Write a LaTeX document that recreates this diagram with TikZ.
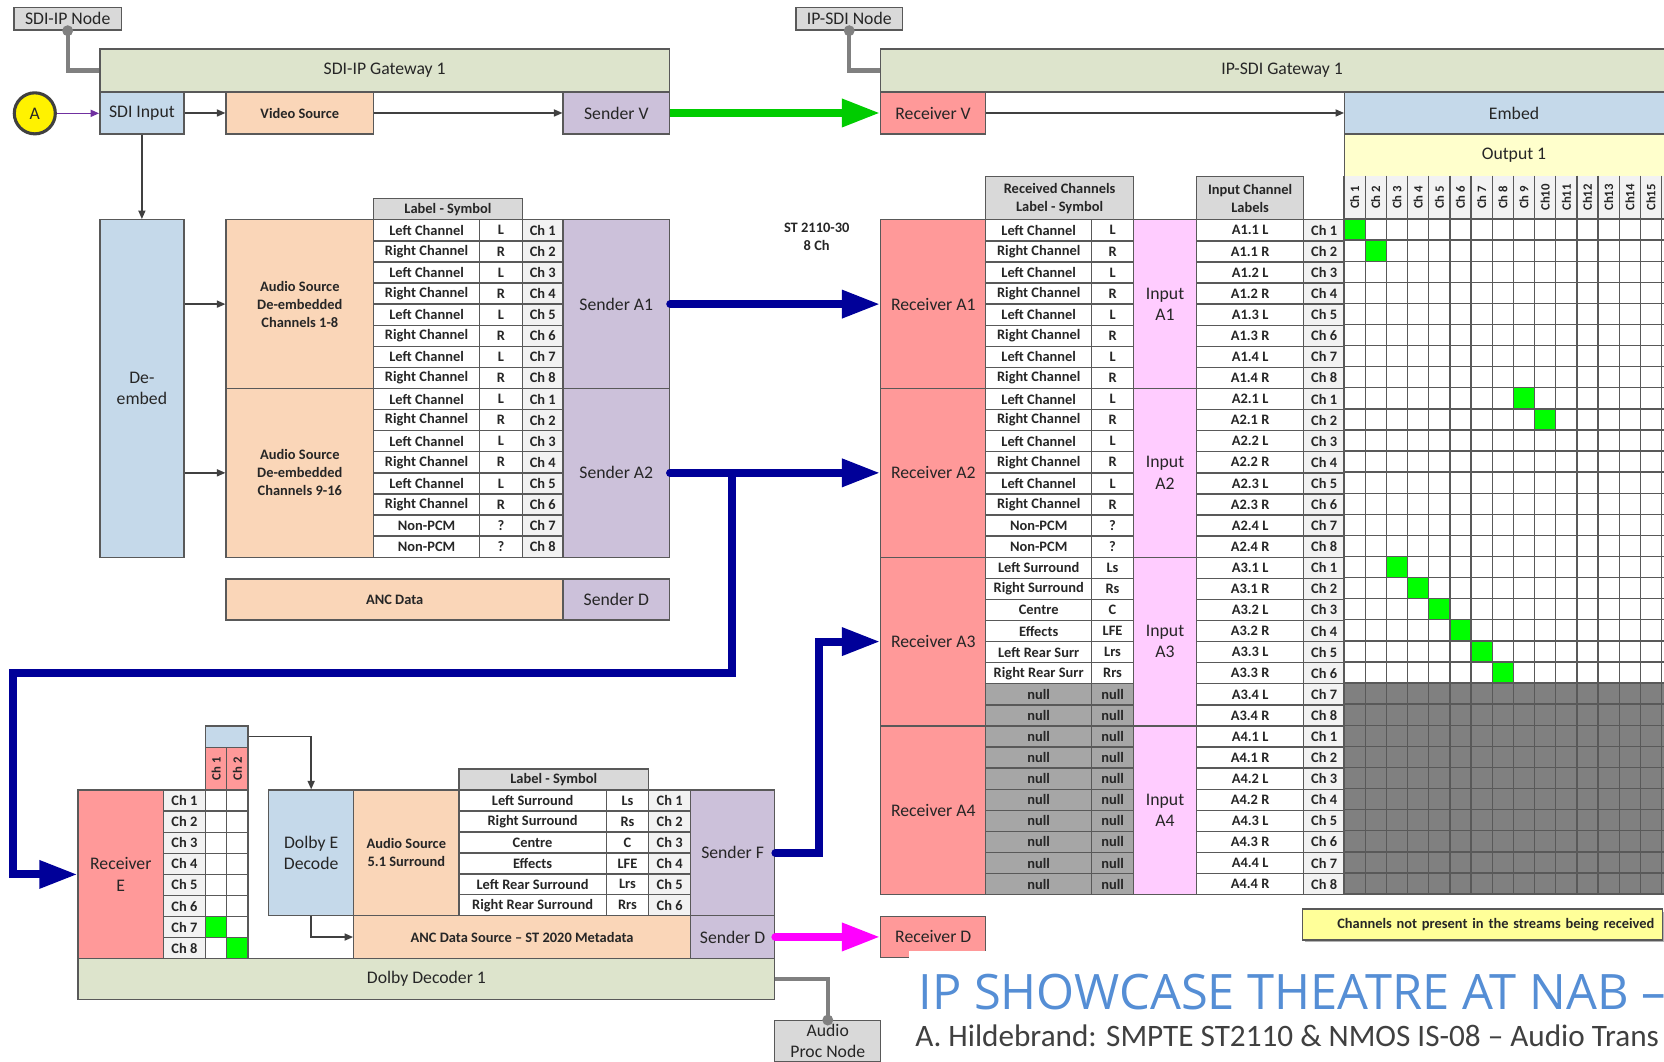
\documentclass[tikz,border=0pt]{standalone}
\usepackage{fontspec}
\setmainfont{Carlito}
\newfontfamily\showfont{Open Sans}
\usetikzlibrary{arrows.meta}

\definecolor{bord}{RGB}{89,89,89}
\definecolor{txt}{RGB}{38,38,38}
\definecolor{arr}{RGB}{64,64,64}
\definecolor{olive}{RGB}{221,228,204}
\definecolor{ltblue}{RGB}{197,217,234}
\definecolor{peach}{RGB}{250,214,184}
\definecolor{lav}{RGB}{204,193,218}
\definecolor{salmon}{RGB}{255,153,153}
\definecolor{pinkin}{RGB}{255,204,255}
\definecolor{ltyel}{RGB}{255,255,204}
\definecolor{hdrgray}{RGB}{217,217,217}
\definecolor{chgray}{RGB}{242,242,242}
\definecolor{nullgray}{RGB}{166,166,166}
\definecolor{offgray}{RGB}{128,128,128}
\definecolor{hit}{RGB}{0,255,0}
\definecolor{vidgreen}{RGB}{0,204,0}
\definecolor{audnavy}{RGB}{0,0,153}
\definecolor{ancmag}{RGB}{255,0,255}
\definecolor{lnkgray}{RGB}{128,128,128}
\definecolor{purp}{RGB}{112,48,160}
\definecolor{legyel}{RGB}{255,255,153}
\definecolor{ttlblue}{RGB}{85,142,213}
\definecolor{subgray}{RGB}{64,64,64}

\tikzset{every picture/.style={line width=0.75pt}}
\tikzset{
	sz/.style 2 args={minimum width=#1*0.75pt, minimum height=#2*0.75pt},
	blk/.style={draw=bord, line width=1pt, rectangle, inner sep=0pt, anchor=north west, align=center, text=txt, font=\fontsize{12.5}{15}\selectfont},
	sml/.style={font=\fontsize{10.2}{12.75}\selectfont\bfseries},
	grd/.style={draw=bord, line width=1pt},
	lnk/.style={draw=arr, line width=1pt, -{Triangle[length=6pt,width=5pt]}},
	fat/.style={line width=5.6pt, -{Triangle[length=27pt,width=18.75pt]}},
	nlk/.style={draw=lnkgray, line width=3pt, {Circle[length=7.5pt]}-, shorten <=-3.75pt}
}

\begin{document}
\begin{tikzpicture}[x=0.75pt,y=0.75pt,yscale=-1,xscale=1]
		\useasboundingbox (0,0) rectangle (1568,1000);
		\def\rh{19.875}
		\def\cw{19.95}
		
		%SDI-IP gateway
		\node[blk, fill=hdrgray, sz={101}{21.3}] (ndSDI) at (12.6,6.3) {SDI-IP Node};
		\node[blk, fill=olive, sz={536.8}{40.5}] (gwSDI) at (93.4,45.5) {SDI-IP Gateway 1};
		\node[blk, fill=ltblue, sz={79.3}{39.6}] (sdiIn) at (93.4,86) {SDI Input};
		\node[blk, fill=peach, sml, sz={138.9}{39.6}] (vidSrc) at (212.4,86) {Video Source};
		\node[blk, fill=lav, sz={100.2}{39.6}] (sndV) at (530,86) {Sender V};
		\node[circle, draw=subgray, line width=2.2pt, fill=yellow, minimum size=29pt, inner sep=0pt, text=txt, font=\fontsize{12.5}{15}\selectfont] (srcA) at (32.8,106.8) {A};
		\node[blk, fill=ltblue, sz={79.3}{318}] (deemb) at (93.4,206.4) {De-\\embed};
		\node[blk, fill=peach, sml, sz={138.9}{159}] (asrc1) at (212.4,206.4) {Audio Source\\De-embedded\\Channels 1-8};
		\node[blk, fill=peach, sml, sz={138.9}{159}] (asrc2) at (212.4,365.4) {Audio Source\\De-embedded\\Channels 9-16};
		\node[blk, fill=hdrgray, sml, sz={140.3}{19.9}] (hdrL) at (351.3,186.5) {Label - Symbol};
		\foreach \lab/\sym [count=\n from 0] in {Left Channel/L,Right Channel/R,Left Channel/L,Right Channel/R,Left Channel/L,Right Channel/R,Left Channel/L,Right Channel/R,Left Channel/L,Right Channel/R,Left Channel/L,Right Channel/R,Left Channel/L,Right Channel/R,Non-PCM/?,Non-PCM/?}{
			\pgfmathtruncatemacro\ch{mod(\n,8)+1}
			\node[blk, sml, fill=white, sz={100}{\rh}] (lblL\n) at (351.3,{206.4+\n*\rh}) {\lab};
			\node[blk, sml, fill=white, sz={40.3}{\rh}] (symL\n) at (451.3,{206.4+\n*\rh}) {\sym};
			\node[blk, sml, fill=chgray, sz={38.4}{\rh}] (chL\n) at (491.6,{206.4+\n*\rh}) {Ch \ch};
		}
		\node[blk, fill=lav, sz={100.2}{159}] (sndA1) at (530,206.4) {Sender A1};
		\node[blk, fill=lav, sz={100.2}{159}] (sndA2) at (530,365.4) {Sender A2};
		\node[blk, fill=peach, sml, sz={317.6}{38.5}] (ancSrc) at (212.4,545) {ANC Data};
		\node[blk, fill=lav, sz={100.2}{38.5}] (sndD) at (530,545) {Sender D};
		
		%IP-SDI gateway
		\node[blk, fill=hdrgray, sz={100.1}{21.3}] (ndIP) at (749.5,6.3) {IP-SDI Node};
		\node[blk, fill=olive, sz={756.2}{40.5}] (gwIP) at (829.3,45.5) {IP-SDI Gateway 1};
		\node[blk, fill=salmon, sz={98.5}{39.6}] (rcvV) at (829.3,86) {Receiver V};
		\node[blk, fill=ltblue, sz={319}{39.6}] (embed) at (1266.5,86) {Embed};
		\node[blk, fill=ltyel, sz={319}{40}] (out1) at (1266.5,125.6) {Output 1};
		\node[blk, fill=hdrgray, sml, sz={139.2}{40.8}] (hdrR) at (928.2,165.6) {Received Channels\\Label - Symbol};
		\node[blk, fill=hdrgray, sml, sz={100.6}{40.8}] (hdrIn) at (1127,165.6) {Input Channel\\Labels};
		\node[sml, text=txt, align=center] (stLbl) at (769.6,223.5) {ST 2110-30\\8 Ch};
		\foreach \i in {1,...,4}{
			\node[blk, fill=salmon, sz={98.9}{159}] (rcvA\i) at (829.3,{206.4+(\i-1)*159}) {Receiver A\i};
			\node[blk, fill=pinkin, sz={59.6}{159}] (inA\i) at (1067.4,{206.4+(\i-1)*159}) {Input\\A\i};
		}
		\foreach \lab/\sym [count=\n from 0] in {Left Channel/L,Right Channel/R,Left Channel/L,Right Channel/R,Left Channel/L,Right Channel/R,Left Channel/L,Right Channel/R,Left Channel/L,Right Channel/R,Left Channel/L,Right Channel/R,Left Channel/L,Right Channel/R,Non-PCM/?,Non-PCM/?,Left Surround/Ls,Right Surround/Rs,Centre/C,Effects/LFE,Left Rear Surr/Lrs,Right Rear Surr/Rrs,null/null,null/null,null/null,null/null,null/null,null/null,null/null,null/null,null/null,null/null}{
			\pgfmathtruncatemacro\ch{mod(\n,8)+1}
			\pgfmathtruncatemacro\grp{int(\n/8)+1}
			\pgfmathtruncatemacro\pr{int(mod(\n,8)/2)+1}
			\ifnum\n>21 \def\cf{nullgray}\else\def\cf{white}\fi
			\node[blk, sml, fill=\cf, sz={99.8}{\rh}] (lblR\n) at (928.2,{206.4+\n*\rh}) {\lab};
			\node[blk, sml, fill=\cf, sz={39.4}{\rh}] (symR\n) at (1028,{206.4+\n*\rh}) {\sym};
			\node[blk, sml, fill=white, sz={100.6}{\rh}] (inLbl\n) at (1127,{206.4+\n*\rh}) {A\grp.\pr{} \ifodd\n R\else L\fi};
			\node[blk, sml, fill=chgray, sz={38.9}{\rh}] (chR\n) at (1227.6,{206.4+\n*\rh}) {Ch \ch};
		}
		
		%routing matrix
		\fill[white] (1266.5,206.4) rectangle ({1266.5+16*\cw},{206.4+32*\rh});
		\fill[offgray] (1266.5,{206.4+22*\rh}) rectangle ({1266.5+16*\cw},{206.4+32*\rh});
		\fill[chgray] (1266.5,165.6) rectangle ({1266.5+16*\cw},206.4);
		\foreach \n/\c in {0/0,1/1,8/8,9/9,16/2,17/3,18/4,19/5,20/6,21/7}
			\fill[hit] ({1266.5+\c*\cw},{206.4+\n*\rh}) rectangle ++(\cw,\rh);
		\foreach \c in {0,...,16}
			\draw[grd] ({1266.5+\c*\cw},165.6) -- ({1266.5+\c*\cw},{206.4+32*\rh});
		\foreach \n in {0,...,32}
			\draw[grd] (1266.5,{206.4+\n*\rh}) -- ({1266.5+16*\cw},{206.4+\n*\rh});
		\foreach \c in {1,...,15}
			\node[rotate=90, text=txt, font=\fontsize{9}{10}\selectfont\bfseries] (colh\c) at ({1266.5+(\c-0.5)*\cw},186) {\ifnum\c<10 Ch \c\else Ch\c\fi};
		
		\node[blk, fill=salmon, sz={98.9}{38.6}] (rcvD) at (829.3,862.9) {Receiver D};
		\fill[black!30] (1229.6,859) rectangle (1568.8,888);
		\node[blk, fill=legyel, sml, sz={339.2}{29}, text width=243pt, align=right] (legend) at (1226.6,856) {Channels not present in the streams being received};
		
		%Dolby decoder
		\node[blk, fill=ltblue, sz={40}{20}] (dsel) at (193,683.5) {};
		\node[blk, fill=salmon, sz={20}{40.3}] (selh1) at (193,703.5) {};
		\node[blk, fill=salmon, sz={20}{40.3}] (selh2) at (213,703.5) {};
		\node[rotate=90, text=txt, font=\fontsize{9}{10}\selectfont\bfseries] (selt1) at (selh1.center) {Ch 1};
		\node[rotate=90, text=txt, font=\fontsize{9}{10}\selectfont\bfseries] (selt2) at (selh2.center) {Ch 2};
		\node[blk, fill=salmon, sz={80.3}{159}] (rcvE) at (73,743.8) {Receiver\\E};
		\foreach \n in {0,...,7}{
			\pgfmathtruncatemacro\ch{\n+1}
			\ifnum\n=6 \def\ca{hit}\else\def\ca{white}\fi
			\ifnum\n=7 \def\cb{hit}\else\def\cb{white}\fi
			\node[blk, sml, fill=chgray, sz={39.7}{\rh}] (chE\n) at (153.3,{743.8+\n*\rh}) {Ch \ch};
			\node[blk, fill=\ca, sz={20}{\rh}] (selA\n) at (193,{743.8+\n*\rh}) {};
			\node[blk, fill=\cb, sz={20}{\rh}] (selB\n) at (213,{743.8+\n*\rh}) {};
		}
		\node[blk, fill=ltblue, sz={80.3}{118.4}] (dolbyDec) at (252.4,743.8) {Dolby E\\Decode};
		\node[blk, fill=peach, sml, sz={99}{118.4}] (asrc51) at (332.7,743.8) {Audio Source\\5.1 Surround};
		\node[blk, fill=hdrgray, sml, sz={178.9}{19.8}] (hdrB) at (431.7,724) {Label - Symbol};
		\foreach \lab/\sym [count=\n from 0] in {Left Surround/Ls,Right Surround/Rs,Centre/C,Effects/LFE,Left Rear Surround/Lrs,Right Rear Surround/Rrs}{
			\pgfmathtruncatemacro\ch{\n+1}
			\node[blk, sml, fill=white, sz={139}{19.73}] (lblB\n) at (431.7,{743.8+\n*19.73}) {\lab};
			\node[blk, sml, fill=white, sz={39.9}{19.73}] (symB\n) at (570.7,{743.8+\n*19.73}) {\sym};
			\node[blk, sml, fill=chgray, sz={39.4}{19.73}] (chB\n) at (610.6,{743.8+\n*19.73}) {Ch \ch};
		}
		\node[blk, fill=lav, sz={79.3}{118.4}] (sndF) at (650,743.8) {Sender F};
		\node[blk, fill=peach, sml, sz={317.3}{40.2}] (ancMeta) at (332.7,862.2) {ANC Data Source – ST 2020 Metadata};
		\node[blk, fill=lav, sz={79.3}{40.2}] (sndD2) at (650,862.2) {Sender D};
		\node[blk, fill=olive, sz={656.3}{39}] (dolbyBox) at (73,902.4) {Dolby Decoder 1};
		\node[blk, fill=hdrgray, sz={99.9}{38.5}] (ndAP) at (729.4,961.2) {Audio\\Proc Node};
		
		%internal links
		\draw[lnk, draw=purp] (srcA.east) -- (srcA.east -| sdiIn.west);
		\draw[lnk] (sdiIn.east) -- (vidSrc.west);
		\draw[lnk] (vidSrc.east) -- (sndV.west);
		\draw[lnk] (rcvV.east) -- (embed.west);
		\draw[lnk] (sdiIn.south) -- (deemb.north);
		\draw[lnk] (deemb.east |- asrc1.west) -- (asrc1.west);
		\draw[lnk] (deemb.east |- asrc2.west) -- (asrc2.west);
		\draw[lnk] (dsel.east) -| (dolbyDec.north);
		\draw[lnk] (dolbyDec.south) |- (ancMeta.west);
		
		%node control links
		\draw[nlk] (ndSDI.south) |- (gwSDI.west);
		\draw[nlk] (ndIP.south) |- (gwIP.west);
		\draw[nlk] (ndAP.north) |- (dolbyBox.east);
		
		%streams
		\coordinate (loopR) at (690,634);
		\coordinate (loopL) at (12,634);
		\draw[fat, draw=vidgreen] (sndV.east) -- (rcvV.west);
		\draw[fat, draw=audnavy, line cap=round] (sndA1.east) -- (rcvA1.west);
		\draw[fat, draw=audnavy, line cap=round] (sndA2.east) -- (rcvA2.west);
		\draw[fat, draw=audnavy, line cap=round] (sndA2.east) -| (loopR) -- (loopL) |- (rcvE.west);
		\draw[fat, draw=audnavy, line cap=round] (sndF.east) -- ++(41.5,0) |- (rcvA3.west);
		\draw[fat, draw=ancmag, line cap=round] (sndD2.east) -- (rcvD.west);
		
		%title
		\fill[white] (856.6,896) rectangle (1570,1002);
		\node[anchor=base west, inner sep=0pt, text=ttlblue, font=\showfont\fontsize{34.5}{41}\selectfont] (ttl) at (865,951) {IP SHOWCASE THEATRE AT NAB –};
		\node[anchor=base west, inner sep=0pt, text=subgray, font=\fontsize{22.05}{26}\selectfont] (sub) at (862,986.3) {A. Hildebrand: SMPTE ST2110 \& NMOS IS-08 – Audio Trans};
		
\end{tikzpicture}
\end{document}
